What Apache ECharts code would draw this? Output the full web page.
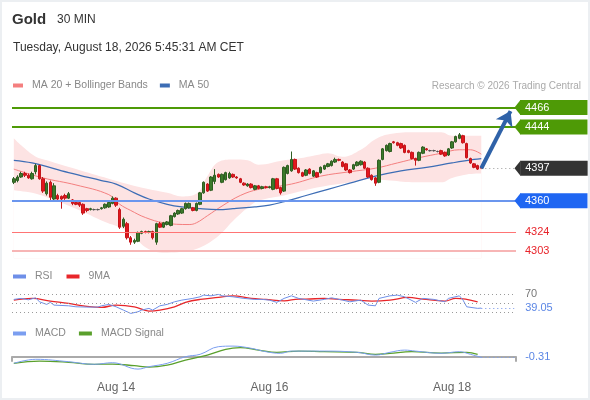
<!DOCTYPE html>
<html><head><meta charset="utf-8">
<script src="https://cdn.jsdelivr.net/npm/echarts@6/dist/echarts.min.js"></script>
<style>
html,body{margin:0;padding:0;background:#fff}
#c{position:absolute;left:0;top:0;width:590px;height:400px}
#b{position:absolute;left:0;top:0;width:590px;height:400px;box-sizing:border-box;border:2px solid #eceff2;pointer-events:none}
</style>
</head><body><div id="c"></div><div id="b"></div>
<script>
// ---------- DATA ----------
const dateTicks = [[28, 'Aug 14'], [70, 'Aug 16'], [120, 'Aug 18']];
const slotCount = 138; // candles + empty space on the right
// [open, close, low, high]
const candles = [
[4381,4385,4379,4387],[4383,4387,4381,4389],[4387,4391,4386,4393],[4391,4389,4387,4393],[4389,4386,4385,4391],
[4385,4391,4384,4393],[4393,4400,4390,4402],[4400,4385,4384,4401],[4385,4371,4369,4387],[4368,4380,4366,4382],
[4381,4364,4359,4383],[4362,4377,4360,4380],[4366,4362,4360,4368],[4365,4362,4351,4366],[4366,4363,4361,4368],
[4363,4368,4362,4370],[4361,4357,4355,4362],[4358,4356,4355,4359],[4358,4355,4353,4359],[4356,4346,4344,4357],
[4351,4349,4347,4352],[4350,4351,4349,4352],[4350,4350,4349,4351],[4350,4350,4349,4351],[4351,4352,4350,4353],
[4352,4356,4351,4357],[4353,4358,4352,4359],[4357,4363,4356,4365],[4363,4355,4353,4364],[4350,4330,4328,4352],
[4331,4339,4329,4341],[4334,4318,4316,4336],[4318,4313,4310,4320],[4313,4315,4311,4317],[4314,4324,4313,4325],
[4323,4325,4322,4326],[4325,4324,4323,4326],[4324,4325,4323,4326],[4325,4318,4316,4326],[4313,4334,4310,4335],
[4334,4330,4329,4336],[4330,4335,4329,4336],[4333,4336,4332,4337],[4332,4343,4331,4344],[4342,4346,4341,4347],
[4345,4349,4344,4350],[4346,4351,4345,4352],[4351,4357,4350,4358],[4352,4357,4351,4358],[4352,4349,4348,4353],
[4349,4357,4348,4358],[4356,4369,4355,4370],[4369,4381,4368,4382],[4379,4371,4370,4380],[4372,4387,4371,4388],
[4382,4389,4379,4396],[4390,4387,4386,4391],[4381,4390,4380,4391],[4384,4392,4383,4393],[4386,4391,4385,4393],
[4390,4387,4386,4391],[4387,4386,4385,4388],[4385,4381,4380,4386],[4380,4378,4377,4381],[4377,4379,4376,4380],
[4379,4375,4374,4380],[4373,4377,4372,4378],[4377,4374,4373,4378],[4374,4376,4373,4377],[4376,4375,4374,4377],
[4375,4376,4374,4377],[4373,4385,4372,4386],[4385,4374,4373,4386],[4375,4369,4367,4376],[4371,4398,4370,4399],
[4391,4400,4390,4401],[4394,4407,4393,4416],[4407,4396,4395,4408],[4397,4392,4391,4398],[4392,4388,4387,4393],
[4389,4395,4388,4396],[4396,4391,4390,4397],[4388,4394,4387,4395],[4392,4387,4386,4393],[4392,4398,4391,4399],
[4396,4400,4395,4401],[4399,4402,4398,4403],[4400,4405,4399,4406],[4404,4407,4403,4409],[4407,4406,4405,4408],
[4404,4399,4398,4405],[4402,4395,4394,4403],[4395,4392,4391,4396],[4396,4401,4395,4402],[4400,4404,4399,4405],
[4401,4405,4400,4406],[4404,4397,4396,4405],[4397,4387,4386,4398],[4389,4384,4383,4390],[4386,4380,4377,4387],
[4381,4406,4380,4407],[4407,4419,4406,4420],[4417,4423,4416,4424],[4416,4425,4415,4426],[4427,4426,4425,4428],
[4426,4423,4422,4427],[4425,4420,4419,4426],[4423,4415,4414,4424],[4417,4415,4414,4418],[4415,4408,4407,4416],
[4408,4406,4400,4409],[4406,4415,4405,4416],[4414,4421,4413,4422],[4419,4418,4417,4420],[4417,4417,4416,4418],
[4417,4417,4416,4418],[4416,4416,4415,4417],[4417,4413,4412,4418],[4415,4411,4410,4416],[4412,4419,4411,4420],
[4420,4427,4419,4428],[4427,4433,4426,4434],[4431,4435,4430,4437],[4434,4426,4425,4435],[4425,4409,4408,4426],
[4408,4403,4402,4409],[4402,4398,4397,4403],[4400,4396,4395,4401],[4398,4397,4396,4399]
];
// [candle index, value]
const ma20 = [[0,4396],[8,4386],[17,4378],[26,4367],[29,4356],[32,4349],[36,4341],[41,4335],[48,4333],[50,4335],[53,4343],[57,4354],[62,4366],[67,4373],[76,4379],[84,4388],[92,4393],[99,4397],[105,4403],[111,4409],[117,4414],[122,4418],[125,4418],[128,4413]];
const ma50 = [[0,4406],[5,4403],[15,4392],[24,4383],[28,4379],[33,4369],[37,4362],[42,4356],[46,4353],[51,4351],[56,4350],[60,4351],[66,4353],[70,4355],[74,4359],[80,4366],[86,4373],[92,4380],[99,4388],[106,4394],[113,4398],[120,4403],[126,4407],[128,4408]];
const bbUpper = [[0,4431],[2,4423],[6,4410],[9,4406],[17,4396],[26,4385],[34,4376],[42,4369],[46,4365],[50,4368],[53,4388],[56,4404],[60,4407],[64,4406],[67,4401],[74,4406],[78,4408],[83,4412],[86,4414],[90,4410],[95,4418],[99,4430],[103,4436],[110,4438],[117,4438],[120,4434],[128,4434]];
const bbLower = [[0,4372],[5,4369],[9,4364],[17,4351],[25,4336],[30,4328],[33,4318],[37,4305],[42,4301],[46,4302],[51,4307],[56,4320],[60,4337],[64,4352],[67,4360],[74,4366],[83,4375],[92,4381],[97,4385],[103,4383],[110,4381],[117,4381],[120,4386],[124,4390],[128,4391]];
const rsi = [[0,58.7],[2,61],[4,57.8],[6,62.3],[7,53.3],[9,47.4],[10,52],[11,45.8],[15,44.2],[17,42],[20,41.3],[23,41.3],[24,44.2],[26,47.4],[28,42],[30,34.5],[32,27],[34,30.7],[35,34.5],[37,38.4],[38,34.5],[40,44.2],[42,47.4],[44,53.3],[46,57.1],[49,61],[51,64.6],[52,68.4],[54,66.8],[56,70],[57,66.8],[60,64.6],[63,61],[66,58.7],[68,58.7],[70,57.1],[72,52],[74,61],[76,66.8],[78,61],[82,54.9],[85,58.7],[87,62.3],[90,57.1],[92,53.3],[95,57.1],[97,45.8],[99,44.2],[100,61],[103,66.8],[105,68.4],[107,64.6],[110,52],[112,61],[115,58.7],[118,53.3],[119,61],[122,66.8],[123,57.1],[124,42],[127,38.4],[128,39.05]];
const rsiMa = [[0,57.1],[5,61],[10,54.9],[15,49.7],[19,44.2],[24,40.6],[28,45.8],[33,42],[37,32.3],[40,34.5],[44,42],[47,52],[51,58.7],[56,63.2],[60,66.8],[65,61],[69,58.7],[74,55.5],[78,59.4],[80,59.4],[85,61],[89,58.7],[94,57.1],[98,54.9],[103,57.1],[108,63.2],[112,59.4],[118,54.9],[121,61],[127,53.3]];
const macd = [[0,-3.3],[6,-1.3],[15,-2.5],[22,-3.8],[27,-3.0],[34,-6.2],[37,-5.0],[42,-3.3],[47,0],[51,1.2],[56,5.0],[60,5.3],[65,4.2],[69,2.5],[73,1.7],[76,2.8],[85,2.8],[94,2.2],[99,0.8],[103,2.2],[107,3.3],[110,2.8],[117,1.7],[122,2.5],[125,1.2],[128,-0.31]];
const macdSignal = [[0,-3.3],[7,-2.2],[15,-2.8],[22,-3.8],[27,-3.7],[33,-4.5],[37,-5.2],[42,-4.2],[47,-1.7],[53,0.8],[58,3.7],[62,4.5],[67,3.3],[72,2.2],[78,2.8],[85,2.5],[94,2.2],[99,1.2],[103,1.7],[109,2.5],[117,1.8],[124,2.2],[127,1.2]];
const resistances = [4466, 4444];
const pivot = 4360;
const supports = [4324, 4303];
const lastClose = 4397;
const arrowTarget = 4462;
const rsiLevels = [70, 50, 30];
const rsiLast = 39.05;
const macdLast = -0.31;

// ---------- CHART ----------
const categories = Array.from({length: slotCount}, (_, i) => 'c' + i);
const tickMap = Object.fromEntries(dateTicks);
const lastIdx = candles.length - 1;
const endIdx = slotCount - 1;
const FONT = '"Liberation Sans", Arial, sans-serif';

const boxLabel = (txt, bg, dist) => ({show: true, position: 'end', formatter: txt, color: '#fff', backgroundColor: bg,
  padding: [2, 38, 2, 5], fontSize: 11, lineHeight: 11, distance: dist, fontFamily: FONT});
const textLabel = (txt, col, dist) => ({show: true, position: 'end', formatter: txt, color: col, fontSize: 11, distance: dist, fontFamily: FONT});

const priceLines = [];
resistances.forEach(v => priceLines.push({yAxis: v, lineStyle: {color: '#4e9a06', width: 2, type: 'solid'}, label: boxLabel(String(v), '#4e9a06', 4)}));
priceLines.push({yAxis: pivot, lineStyle: {color: '#6b96ee', width: 2, type: 'solid'}, label: boxLabel(String(pivot), '#1f66f2', 4)});
priceLines.push({yAxis: supports[0], lineStyle: {color: '#ff7474', width: 1, type: 'solid'}, label: textLabel(String(supports[0]), '#e8242b', 9)});
priceLines.push({yAxis: supports[1], lineStyle: {color: '#f7b5b5', width: 2, type: 'solid'}, label: textLabel(String(supports[1]), '#e8242b', 9)});
priceLines.push([{coord: [lastIdx, lastClose], lineStyle: {color: '#999', width: 1, type: [1, 3]}, label: boxLabel(String(lastClose), '#333', 6)}, {coord: [endIdx, lastClose]}]);
priceLines.push([{coord: [lastIdx, lastClose], symbol: 'none', lineStyle: {color: '#2f62a8', width: 4, type: 'solid'}, label: {show: false}},
  {coord: [endIdx - 1, arrowTarget], symbol: 'arrow', symbolSize: 14}]);

// pointed left ends of the price boxes, anchored at the right edge of the axis
const pointer = (v, col) => ({coord: [endIdx, v], itemStyle: {color: col}});
const boxPointers = [
  ...resistances.map(v => pointer(v, '#4e9a06')),
  pointer(lastClose, '#333'),
  pointer(pivot, '#1f66f2')
];

const hiddenX = (g) => ({type: 'category', gridIndex: g, data: categories, boundaryGap: true, show: false});
const hiddenY = (g, min, max) => ({type: 'value', gridIndex: g, min, max, show: false});
const legendText = {color: '#888', fontSize: 10.5, padding: [0, 0, 0, 4]};

const chart = echarts.init(document.getElementById('c'), null, {renderer: 'canvas'});
chart.setOption({
  animation: false,
  textStyle: {fontFamily: FONT},
  title: [
    {text: 'Gold', left: 12, top: 12, padding: 0, textStyle: {fontSize: 15, fontWeight: 'bold', color: '#333', fontFamily: FONT}},
    {text: '30 MIN', left: 57, top: 14, padding: 0, textStyle: {fontSize: 12, fontWeight: 'normal', color: '#333', fontFamily: FONT}},
    {text: 'Tuesday, August 18, 2026 5:45:31 AM CET', left: 13, top: 42, padding: 0, textStyle: {fontSize: 12, fontWeight: 'normal', color: '#333', fontFamily: FONT}},
    {text: 'Research © 2026 Trading Central', right: 9, top: 81, padding: 0, textStyle: {fontSize: 10, fontWeight: 'normal', color: '#aaa', fontFamily: FONT}}
  ],
  legend: [
    {data: ['MA 20 + Bollinger Bands', 'MA 50'], left: 13, top: 80, padding: 0, icon: 'rect', itemWidth: 10, itemHeight: 4, itemGap: 12, textStyle: legendText},
    {data: ['RSI', '9MA'], left: 13, top: 271, padding: 0, icon: 'rect', itemWidth: 13, itemHeight: 4, itemGap: 14, textStyle: legendText},
    {data: ['MACD', 'MACD Signal'], left: 13, top: 328, padding: 0, icon: 'rect', itemWidth: 13, itemHeight: 4, itemGap: 13, textStyle: legendText}
  ],
  grid: [
    {left: 12, width: 504, top: 98.5, height: 160},
    {left: 12, width: 504, top: 290, height: 26.5},
    {left: 12, width: 504, top: 340.7, height: 32}
  ],
  xAxis: [
    hiddenX(0), hiddenX(1),
    {type: 'category', gridIndex: 2, data: categories, boundaryGap: true,
     axisLine: {show: true, lineStyle: {color: '#aaa', width: 2}},
     axisTick: {show: true, interval: (i) => i === 0, length: 5, lineStyle: {color: '#aaa', width: 2}},
     axisLabel: {show: true, interval: (i) => tickMap[i] !== undefined, formatter: (v, i) => tickMap[i] || '', color: '#666', fontSize: 12, margin: 9},
     splitLine: {show: false}}
  ],
  yAxis: [hiddenY(0, 4294.4, 4476.25), hiddenY(1, 20, 80), hiddenY(2, -8, 8)],
  series: [
    {type: 'line', data: bbUpper, smooth: 0.4, symbol: 'none', silent: true, z: 1, lineStyle: {width: 0}, areaStyle: {color: '#fde3e3', opacity: 1, origin: 'start'}},
    {type: 'line', data: bbLower, smooth: 0.4, symbol: 'none', silent: true, z: 2, lineStyle: {width: 0}, areaStyle: {color: '#ffffff', opacity: 1, origin: 'start'}},
    {name: 'MA 20 + Bollinger Bands', type: 'line', data: ma20, smooth: 0.4, symbol: 'none', z: 3, color: '#f47f7f', lineStyle: {width: 1}},
    {name: 'MA 50', type: 'line', data: ma50, smooth: 0.4, symbol: 'none', z: 3, color: '#3d6db5', lineStyle: {width: 1.2}},
    {name: 'Gold', type: 'candlestick', data: candles, z: 4, barWidth: 3,
     itemStyle: {color: '#3b7a2a', color0: '#e3171d', borderColor: '#2f5e22', borderColor0: '#c4151a', borderColorDoji: '#555', borderWidth: 1},
     markLine: {silent: true, symbol: 'none', animation: false, data: priceLines},
     markPoint: {silent: true, animation: false, symbol: 'path://M0,8 L6,0 L6,16 Z', symbolSize: [6, 15], symbolKeepAspect: false,
       symbolOffset: [3.3, 0], label: {show: false}, data: boxPointers}},
    {name: 'RSI', type: 'line', xAxisIndex: 1, yAxisIndex: 1, data: rsi, symbol: 'none', z: 3, color: '#6e8fe8', lineStyle: {width: 1},
     markLine: {silent: true, symbol: 'none', animation: false, data: [
       ...rsiLevels.map(v => ({yAxis: v, lineStyle: {color: '#9a9a9a', width: 1, type: [1, 3]}, label: v === 70 ? textLabel('70', '#777', 9) : {show: false}})),
       [{coord: [lastIdx, rsiLast], lineStyle: {color: '#6e8fe8', width: 1, type: [1, 3]}, label: textLabel(String(rsiLast), '#5b86e5', 11)}, {coord: [endIdx, rsiLast]}]
     ]}},
    {name: '9MA', type: 'line', xAxisIndex: 1, yAxisIndex: 1, data: rsiMa, smooth: 0.4, symbol: 'none', z: 2, color: '#e8262a', lineStyle: {width: 1.3}},
    {name: 'MACD', type: 'line', xAxisIndex: 2, yAxisIndex: 2, data: macd, smooth: 0.4, symbol: 'none', z: 3, color: '#7b9ef0', lineStyle: {width: 1},
     markLine: {silent: true, symbol: 'none', animation: false, data: [
       [{coord: [lastIdx, macdLast], lineStyle: {color: '#7b9ef0', width: 1, type: [1, 3]}, label: textLabel(String(macdLast), '#5b86e5', 11)}, {coord: [endIdx, macdLast]}]
     ]}},
    {name: 'MACD Signal', type: 'line', xAxisIndex: 2, yAxisIndex: 2, data: macdSignal, smooth: 0.4, symbol: 'none', z: 2, color: '#5aa02c', lineStyle: {width: 1.3}}
  ]
});
</script></body></html>
